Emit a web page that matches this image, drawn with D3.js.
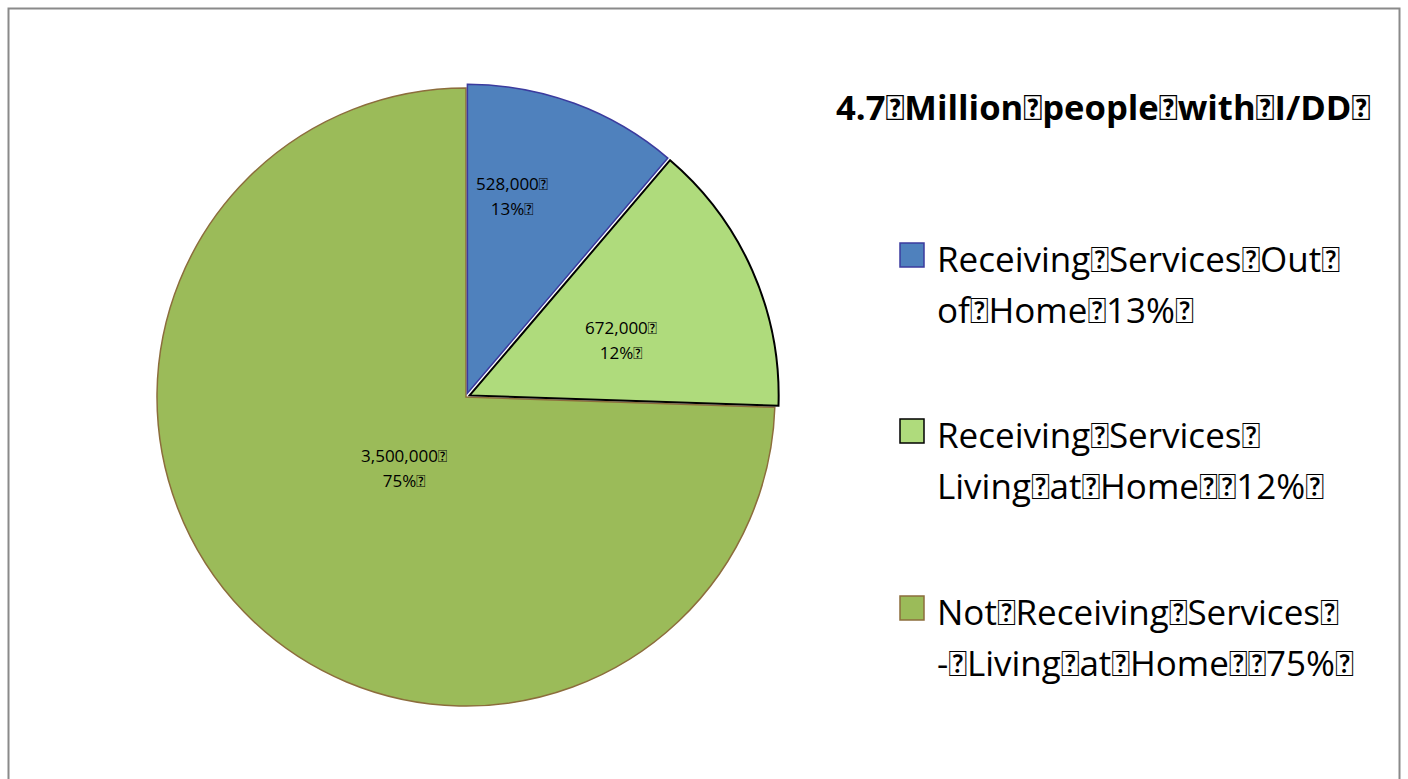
<!DOCTYPE html>
<html>
<head>
<meta charset="utf-8">
<script src="https://cdn.jsdelivr.net/npm/d3@7"></script>
<style>
  html, body { margin: 0; padding: 0; background: #fff; }
  svg { display: block; }
  text { font-family: "Open Sans", "Noto Sans", sans-serif; fill: #000; }
  tspan.ph { font-family: Lato, sans-serif; }
</style>
</head>
<body>
<svg id="chart" width="1408" height="779"></svg>
<script>
// Placeholder glyph that the source file carried in place of spaces
const G = "\uE000";

const categories = [
  "Receiving Services Out of Home",
  "Receiving Services Living at Home",
  "Not Receiving Services - Living at Home"
];
const people = [528000, 672000, 3500000];
const valueLabels = ["528,000" + G, "672,000" + G, "3,500,000" + G];
const percentLabels = ["13%" + G, "12%" + G, "75%" + G];
const legendLines = [
  ["Receiving" + G + "Services" + G + "Out" + G, "of" + G + "Home" + G + "13%" + G],
  ["Receiving" + G + "Services" + G, "Living" + G + "at" + G + "Home" + G + G + "12%" + G],
  ["Not" + G + "Receiving" + G + "Services" + G, "-" + G + "Living" + G + "at" + G + "Home" + G + G + "75%" + G]
];
const titleText = "4.7" + G + "Million" + G + "people" + G + "with" + G + "I/DD" + G;

const fills = ["#4F81BD", "#AFDB7C", "#9BBB59"];
const strokes = ["#3B3B9E", "#000000", "#8C6D3C"];
const strokeWidths = [1.5, 2, 1.5];
const explode = [4, 4, 0];

const svg = d3.select("#chart");

// writes a string into a text element, setting the placeholder glyphs in
// their own tspans so they render as boxes
function writeRun(textSel, str) {
  const parts = str.split(G);
  parts.forEach((p, k) => {
    if (p.length) textSel.append("tspan").text(p);
    if (k < parts.length - 1) textSel.append("tspan").attr("class", "ph").text(G);
  });
  return textSel;
}

// chart frame
svg.append("rect")
  .attr("x", 8.5).attr("y", 8.5)
  .attr("width", 1391).attr("height", 790)
  .attr("fill", "none").attr("stroke", "#8a8a8a").attr("stroke-width", 2);

const cx = 466, cy = 397, r = 309;

const pie = d3.pie().sort(null).value(d => d)(people);
const arc = d3.arc().innerRadius(0).outerRadius(r);

const g = svg.append("g").attr("transform", `translate(${cx},${cy})`);

// draw the large slice first so the exploded ones sit on top
const order = [2, 0, 1];
order.forEach(i => {
  const d = pie[i];
  const mid = (d.startAngle + d.endAngle) / 2;
  const ox = Math.sin(mid) * explode[i], oy = -Math.cos(mid) * explode[i];
  g.append("path")
    .attr("d", arc(d))
    .attr("transform", `translate(${ox},${oy})`)
    .attr("fill", fills[i])
    .attr("stroke", strokes[i])
    .attr("stroke-width", strokeWidths[i])
    .attr("stroke-linejoin", "miter");
});

// data labels
const labelPos = [[46, -207], [155, -63], [-62, 65]];
pie.forEach((d, i) => {
  const [lx, ly] = labelPos[i];
  writeRun(g.append("text").attr("text-anchor", "middle").attr("font-size", 17)
    .attr("x", lx).attr("y", ly), valueLabels[i]);
  writeRun(g.append("text").attr("text-anchor", "middle").attr("font-size", 17)
    .attr("x", lx).attr("y", ly + 25), percentLabels[i]);
});

// title
writeRun(svg.append("text").attr("x", 836).attr("y", 120)
  .attr("font-size", 34.6).attr("font-weight", "bold"), titleText);

// legend
const legendTop = [272, 448, 625];
const lineGap = 51;
legendLines.forEach((lines, i) => {
  svg.append("rect")
    .attr("x", 900).attr("y", legendTop[i] - 29)
    .attr("width", 24).attr("height", 24)
    .attr("fill", fills[i])
    .attr("stroke", strokes[i])
    .attr("stroke-width", 1.5);
  lines.forEach((ln, j) => {
    writeRun(svg.append("text").attr("x", 937).attr("y", legendTop[i] + j * lineGap)
      .attr("font-size", 35), ln);
  });
});
</script>
</body>
</html>
